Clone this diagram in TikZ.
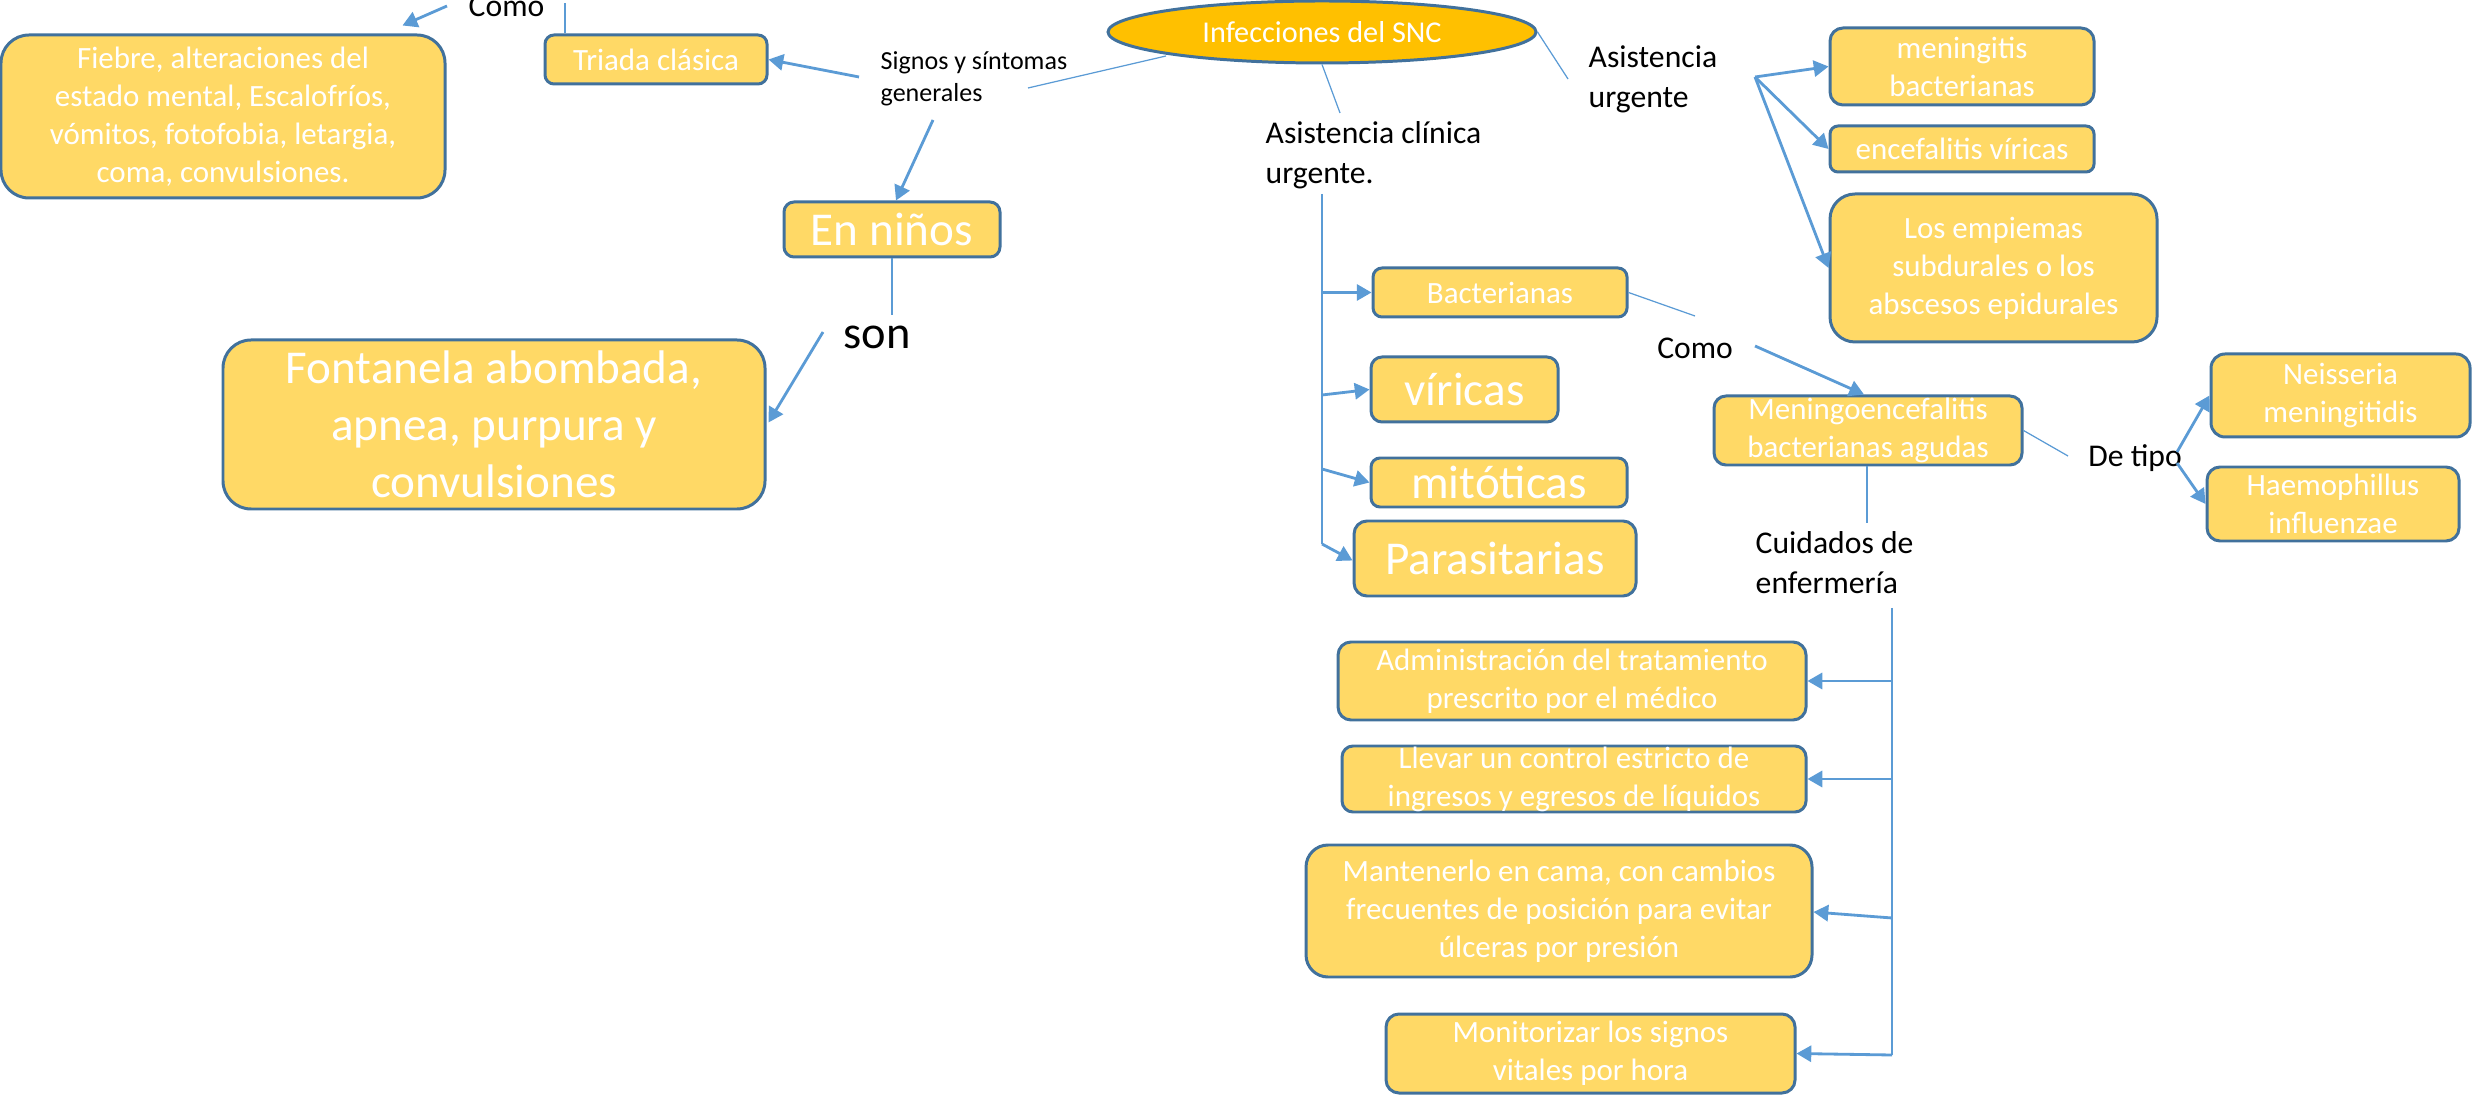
\documentclass[tikz,border=0pt]{standalone}
\usepackage{fontspec}
\setmainfont{Carlito}
\usetikzlibrary{arrows.meta,shapes.geometric}
\definecolor{boxfill}{HTML}{FFD966}
\definecolor{boxline}{HTML}{41719C}
\definecolor{ellfill}{HTML}{FFC000}
\definecolor{arr}{HTML}{5B9BD5}
\tikzset{
  boxshape/.style={draw=boxline, line width=0.85pt, fill=boxfill, inner sep=0pt},
  boxtext/.style={text=white, align=center, inner sep=0pt},
  fn/.style={font=\fontsize{8.8}{10.8}\selectfont},
  fl/.style={font=\fontsize{13.4}{16.2}\selectfont},
  lbl/.style={text=black, align=left, inner sep=0pt, font=\fontsize{9}{11.4}\selectfont},
  conn/.style={draw=arr, line width=0.8pt, -{Triangle[length=4.2pt,width=4.6pt]}},
  thinln/.style={draw=arr, line width=0.35pt},
}
\newcommand\bx[8]{%
  \node[boxshape, minimum width=#4*0.01cm, minimum height=#5*0.01cm, rounded corners=#6*0.01cm] (#1) at (#2,#3) {};
  \node[boxtext, #7] (#1-t) at (#1.center) {#8};
}
\begin{document}
\begin{tikzpicture}[x=0.01cm, y=-0.01cm]
\useasboundingbox (0,0) rectangle (2483,1095);

% central ellipse
\node[ellipse, draw=boxline, line width=0.85pt, fill=ellfill, minimum width=428*0.01cm, minimum height=62*0.01cm, inner sep=0pt, text=white, font=\fontsize{8.6}{10.5}\selectfont] (snc) at (1322,32) {Infecciones del SNC};

% boxes
\bx{fiebre}{223}{116.5}{444}{163}{28}{fn}{Fiebre, alteraciones del\\estado mental, Escalofríos,\\vómitos, fotofobia, letargia,\\coma, convulsiones.}
\bx{triada}{656}{59.5}{222}{49}{9}{fn}{Triada clásica}
\bx{ninos}{892}{229.5}{216}{55}{10}{fl}{En niños}
\bx{fonta}{494}{424.5}{542}{169}{28}{fl}{Fontanela abombada,\\apnea, purpura y\\convulsiones}
\bx{bact}{1500}{292.5}{254}{49}{9}{fn}{Bacterianas}
\bx{vir}{1464.5}{389.5}{187}{65}{11}{fl}{víricas}
\bx{mit}{1499}{482.5}{256}{49}{9}{fl}{mitóticas}
\bx{par}{1495}{558.5}{282}{75}{13}{fl}{Parasitarias}
\bx{men}{1962}{66.5}{264}{77}{13}{fn}{meningitis\\bacterianas}
\bx{enc}{1962}{149}{264}{46}{8}{fn}{encefalitis víricas}
\bx{emp}{1993.5}{268}{327}{148}{25}{fn}{Los empiemas\\subdurales o los\\abscesos epidurales}
\bx{mngo}{1868}{430.5}{308}{69}{12}{fn}{Meningoencefalitis\\bacterianas agudas}
\bx{nei}{2340.5}{395.5}{259}{83}{14}{fn}{Neisseria\\meningitidis}
\bx{hae}{2333}{504}{252}{74}{13}{fn}{Haemophillus\\influenzae}
\bx{adm}{1572}{681}{468}{78}{13}{fn}{Administración del tratamiento\\prescrito por el médico}
\bx{lle}{1574}{779}{464}{66}{11}{fn}{Llevar un control estricto de\\ingresos y egresos de líquidos}
\bx{man}{1559}{911}{506}{132}{22}{fn}{Mantenerlo en cama, con cambios\\frecuentes de posición para evitar\\úlceras por presión}
\bx{mon}{1590.5}{1053.5}{409}{79}{13}{fn}{Monitorizar los signos\\vitales por hora}

% labels
\node[lbl, anchor=west] (como1) at (468,6) {Como};
\node[lbl, anchor=west, font=\fontsize{7.4}{9.1}\selectfont] (signos) at (880,79) {Signos y síntomas\\generales};
\node[lbl, font=\fontsize{13.2}{16}\selectfont] (son) at (877,337) {son};
\node[lbl, anchor=west] (acu) at (1265,155) {Asistencia clínica\\urgente.};
\node[lbl, anchor=west] (au) at (1588,79) {Asistencia\\urgente};
\node[lbl] (como2) at (1695,348) {Como};
\node[lbl] (detipo) at (2135,458) {De tipo};
\node[lbl, anchor=west] (cui) at (1755,563) {Cuidados de\\enfermería};

% free ends / junction points
\coordinate (c1) at (565,3);
\coordinate (v0) at (1322,194);
\coordinate (vb) at (1322,292.5);
\coordinate (vv) at (1322,395);
\coordinate (vm) at (1322,469);
\coordinate (vp) at (1322,544);
\coordinate (w0) at (1892,608);
\coordinate (wa) at (1892,681);
\coordinate (wb) at (1892,779);
\coordinate (wc) at (1892,918);
\coordinate (wd) at (1892,1055);

% left part
\draw[conn] ([shift={(-21,0)}]como1.west) -- ([shift={(-44,-8)}]fiebre.north east);
\draw[thinln] ([shift={(-91,0)}]triada.north) -- (c1);
\draw[thinln] ([shift={(-156,24)}]snc.center) -- ([shift={(148,9)}]signos.west);
\draw[conn] ([shift={(-21,-2)}]signos.west) -- (triada.east);
\draw[conn] ([shift={(53,41)}]signos.west) -- ([shift={(4,0)}]ninos.north);
\draw[thinln] (ninos.south) -- ([shift={(15,-22)}]son.center);
\draw[conn] ([shift={(-54,-5)}]son.center) -- ([shift={(2,-2)}]fonta.east);

% middle branch
\draw[thinln] (snc.south) -- ([shift={(75,-42)}]acu.west);
\draw[thinln] (v0) -- (vp);
\draw[conn] (vb) -- (bact.west);
\draw[conn] (vv) -- (vir.west);
\draw[conn] (vm) -- (mit.west);
\draw[conn] (vp) -- ([shift={(0,2)}]par.west);
\draw[thinln] (bact.east) -- ([shift={(0,-32)}]como2.center);
\draw[conn] ([shift={(60,-2)}]como2.center) -- ([shift={(-4,0)}]mngo.north);
\draw[thinln] (mngo.east) -- ([shift={(-67,-2)}]detipo.center);
\draw[conn] ([shift={(42,-6)}]detipo.center) -- (nei.west);
\draw[conn] ([shift={(42,5)}]detipo.center) -- (hae.west);
\draw[thinln] ([shift={(-1,0)}]mngo.south) -- ([shift={(112,-40)}]cui.west);

% right branch
\draw[thinln] (snc.east) -- ([shift={(-20,0)}]au.west);
\draw[conn] ([shift={(167,-2)}]au.west) -- (men.west);
\draw[conn] ([shift={(167,-2)}]au.west) -- (enc.west);
\draw[conn] ([shift={(167,-2)}]au.west) -- (emp.west);

% nursing care
\draw[thinln] (w0) -- (wd);
\draw[conn] (wa) -- (adm.east);
\draw[conn] (wb) -- (lle.east);
\draw[conn] (wc) -- ([shift={(0,1)}]man.east);
\draw[conn] (wd) -- (mon.east);
\end{tikzpicture}
\end{document}
